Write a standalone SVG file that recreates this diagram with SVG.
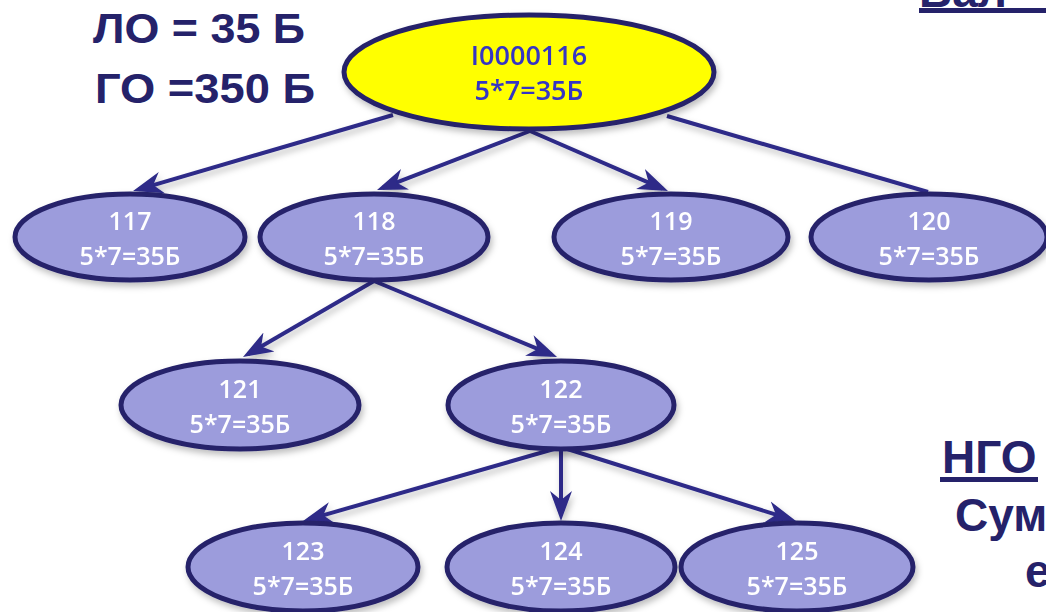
<svg xmlns="http://www.w3.org/2000/svg" width="1046" height="612" viewBox="0 0 1046 612">
<style>
.lbl{font-family:"Liberation Sans",Arial,sans-serif;font-weight:bold;fill:#25226a}
.nd ellipse{fill:#9c9cdc;stroke:#25226a;stroke-width:5}
.nt{font-family:"Open Sans","Liberation Sans",sans-serif;font-weight:600;font-size:25px;fill:#ffffff;text-anchor:middle}
.rt{font-family:"Open Sans","Liberation Sans",sans-serif;font-weight:600;font-size:27px;fill:#3434c4;text-anchor:middle}
.cn line{stroke:#2d2b88;stroke-width:4;fill:none}
.ar{marker-end:url(#arr)}
</style>
<defs>
<marker id="arr" markerUnits="userSpaceOnUse" markerWidth="32" markerHeight="26" viewBox="-30 -13 32 26" refX="-6" refY="0" orient="auto">
<path d="M0,0 L-30,-11 L-21,0 L-30,11 Z" fill="#2d2b88"/>
</marker>
<filter id="sh" x="-20%" y="-20%" width="140%" height="160%">
<feDropShadow dx="2" dy="4" stdDeviation="3" flood-color="#000" flood-opacity="0.25"/>
</filter>
</defs>
<rect width="1046" height="612" fill="#ffffff"/>

<g id="labels">
<text class="lbl" x="93" y="43" font-size="42" textLength="212" lengthAdjust="spacingAndGlyphs">ЛО = 35 Б</text>
<text class="lbl" x="95" y="103" font-size="42" textLength="220" lengthAdjust="spacingAndGlyphs">ГО =350 Б</text>
<text class="lbl" x="919" y="7" font-size="46">Вал</text>
<rect x="919" y="8" width="127" height="5" fill="#25226a"/>
<text class="lbl" x="942" y="473" font-size="46">НГО</text>
<rect x="940" y="477" width="98" height="5" fill="#25226a"/>
<text class="lbl" x="955" y="531" font-size="46">Сум</text>
<text class="lbl" x="1025" y="587" font-size="46">е</text>
</g>

<g id="connectors" class="cn" filter="url(#sh)">
<line class="ar" x1="393" y1="115" x2="138.8" y2="189.3"/>
<line class="ar" x1="530" y1="131" x2="382.6" y2="187.9"/>
<line class="ar" x1="530" y1="131" x2="662.5" y2="188.6"/>
<line x1="667" y1="116" x2="928" y2="192"/>
<line class="ar" x1="374" y1="281" x2="248.2" y2="354"/>
<line class="ar" x1="374" y1="281" x2="551.5" y2="354.7"/>
<line class="ar" x1="561" y1="447" x2="308.8" y2="519.4"/>
<line class="ar" x1="561" y1="447" x2="561" y2="515"/>
<line class="ar" x1="561" y1="447" x2="790.3" y2="519.2"/>
</g>

<g id="n116" filter="url(#sh)">
<ellipse cx="529" cy="72" rx="185" ry="57" fill="#ffff00" stroke="#25226a" stroke-width="5"/>
<text class="rt" x="529" y="65">I0000116</text>
<text class="rt" x="529" y="100">5*7=35Б</text>
</g>

<g id="n117" class="nd" filter="url(#sh)">
<ellipse cx="130" cy="237" rx="115" ry="43"/>
<text class="nt" x="130" y="230">117</text>
<text class="nt" x="130" y="265">5*7=35Б</text>
</g>
<g id="n118" class="nd" filter="url(#sh)">
<ellipse cx="374" cy="237" rx="114" ry="43"/>
<text class="nt" x="374" y="230">118</text>
<text class="nt" x="374" y="265">5*7=35Б</text>
</g>
<g id="n119" class="nd" filter="url(#sh)">
<ellipse cx="671" cy="237" rx="117" ry="43"/>
<text class="nt" x="671" y="230">119</text>
<text class="nt" x="671" y="265">5*7=35Б</text>
</g>
<g id="n120" class="nd" filter="url(#sh)">
<ellipse cx="929" cy="237" rx="118" ry="43"/>
<text class="nt" x="929" y="230">120</text>
<text class="nt" x="929" y="265">5*7=35Б</text>
</g>

<g id="n121" class="nd" filter="url(#sh)">
<ellipse cx="240" cy="405" rx="119" ry="44"/>
<text class="nt" x="240" y="398">121</text>
<text class="nt" x="240" y="433">5*7=35Б</text>
</g>
<g id="n122" class="nd" filter="url(#sh)">
<ellipse cx="561" cy="405" rx="113" ry="44"/>
<text class="nt" x="561" y="398">122</text>
<text class="nt" x="561" y="433">5*7=35Б</text>
</g>

<g id="n123" class="nd" filter="url(#sh)">
<ellipse cx="303" cy="567" rx="115" ry="44"/>
<text class="nt" x="303" y="560">123</text>
<text class="nt" x="303" y="595">5*7=35Б</text>
</g>
<g id="n124" class="nd" filter="url(#sh)">
<ellipse cx="561" cy="567" rx="114" ry="44"/>
<text class="nt" x="561" y="560">124</text>
<text class="nt" x="561" y="595">5*7=35Б</text>
</g>
<g id="n125" class="nd" filter="url(#sh)">
<ellipse cx="797" cy="567" rx="116" ry="44"/>
<text class="nt" x="797" y="560">125</text>
<text class="nt" x="797" y="595">5*7=35Б</text>
</g>
</svg>
